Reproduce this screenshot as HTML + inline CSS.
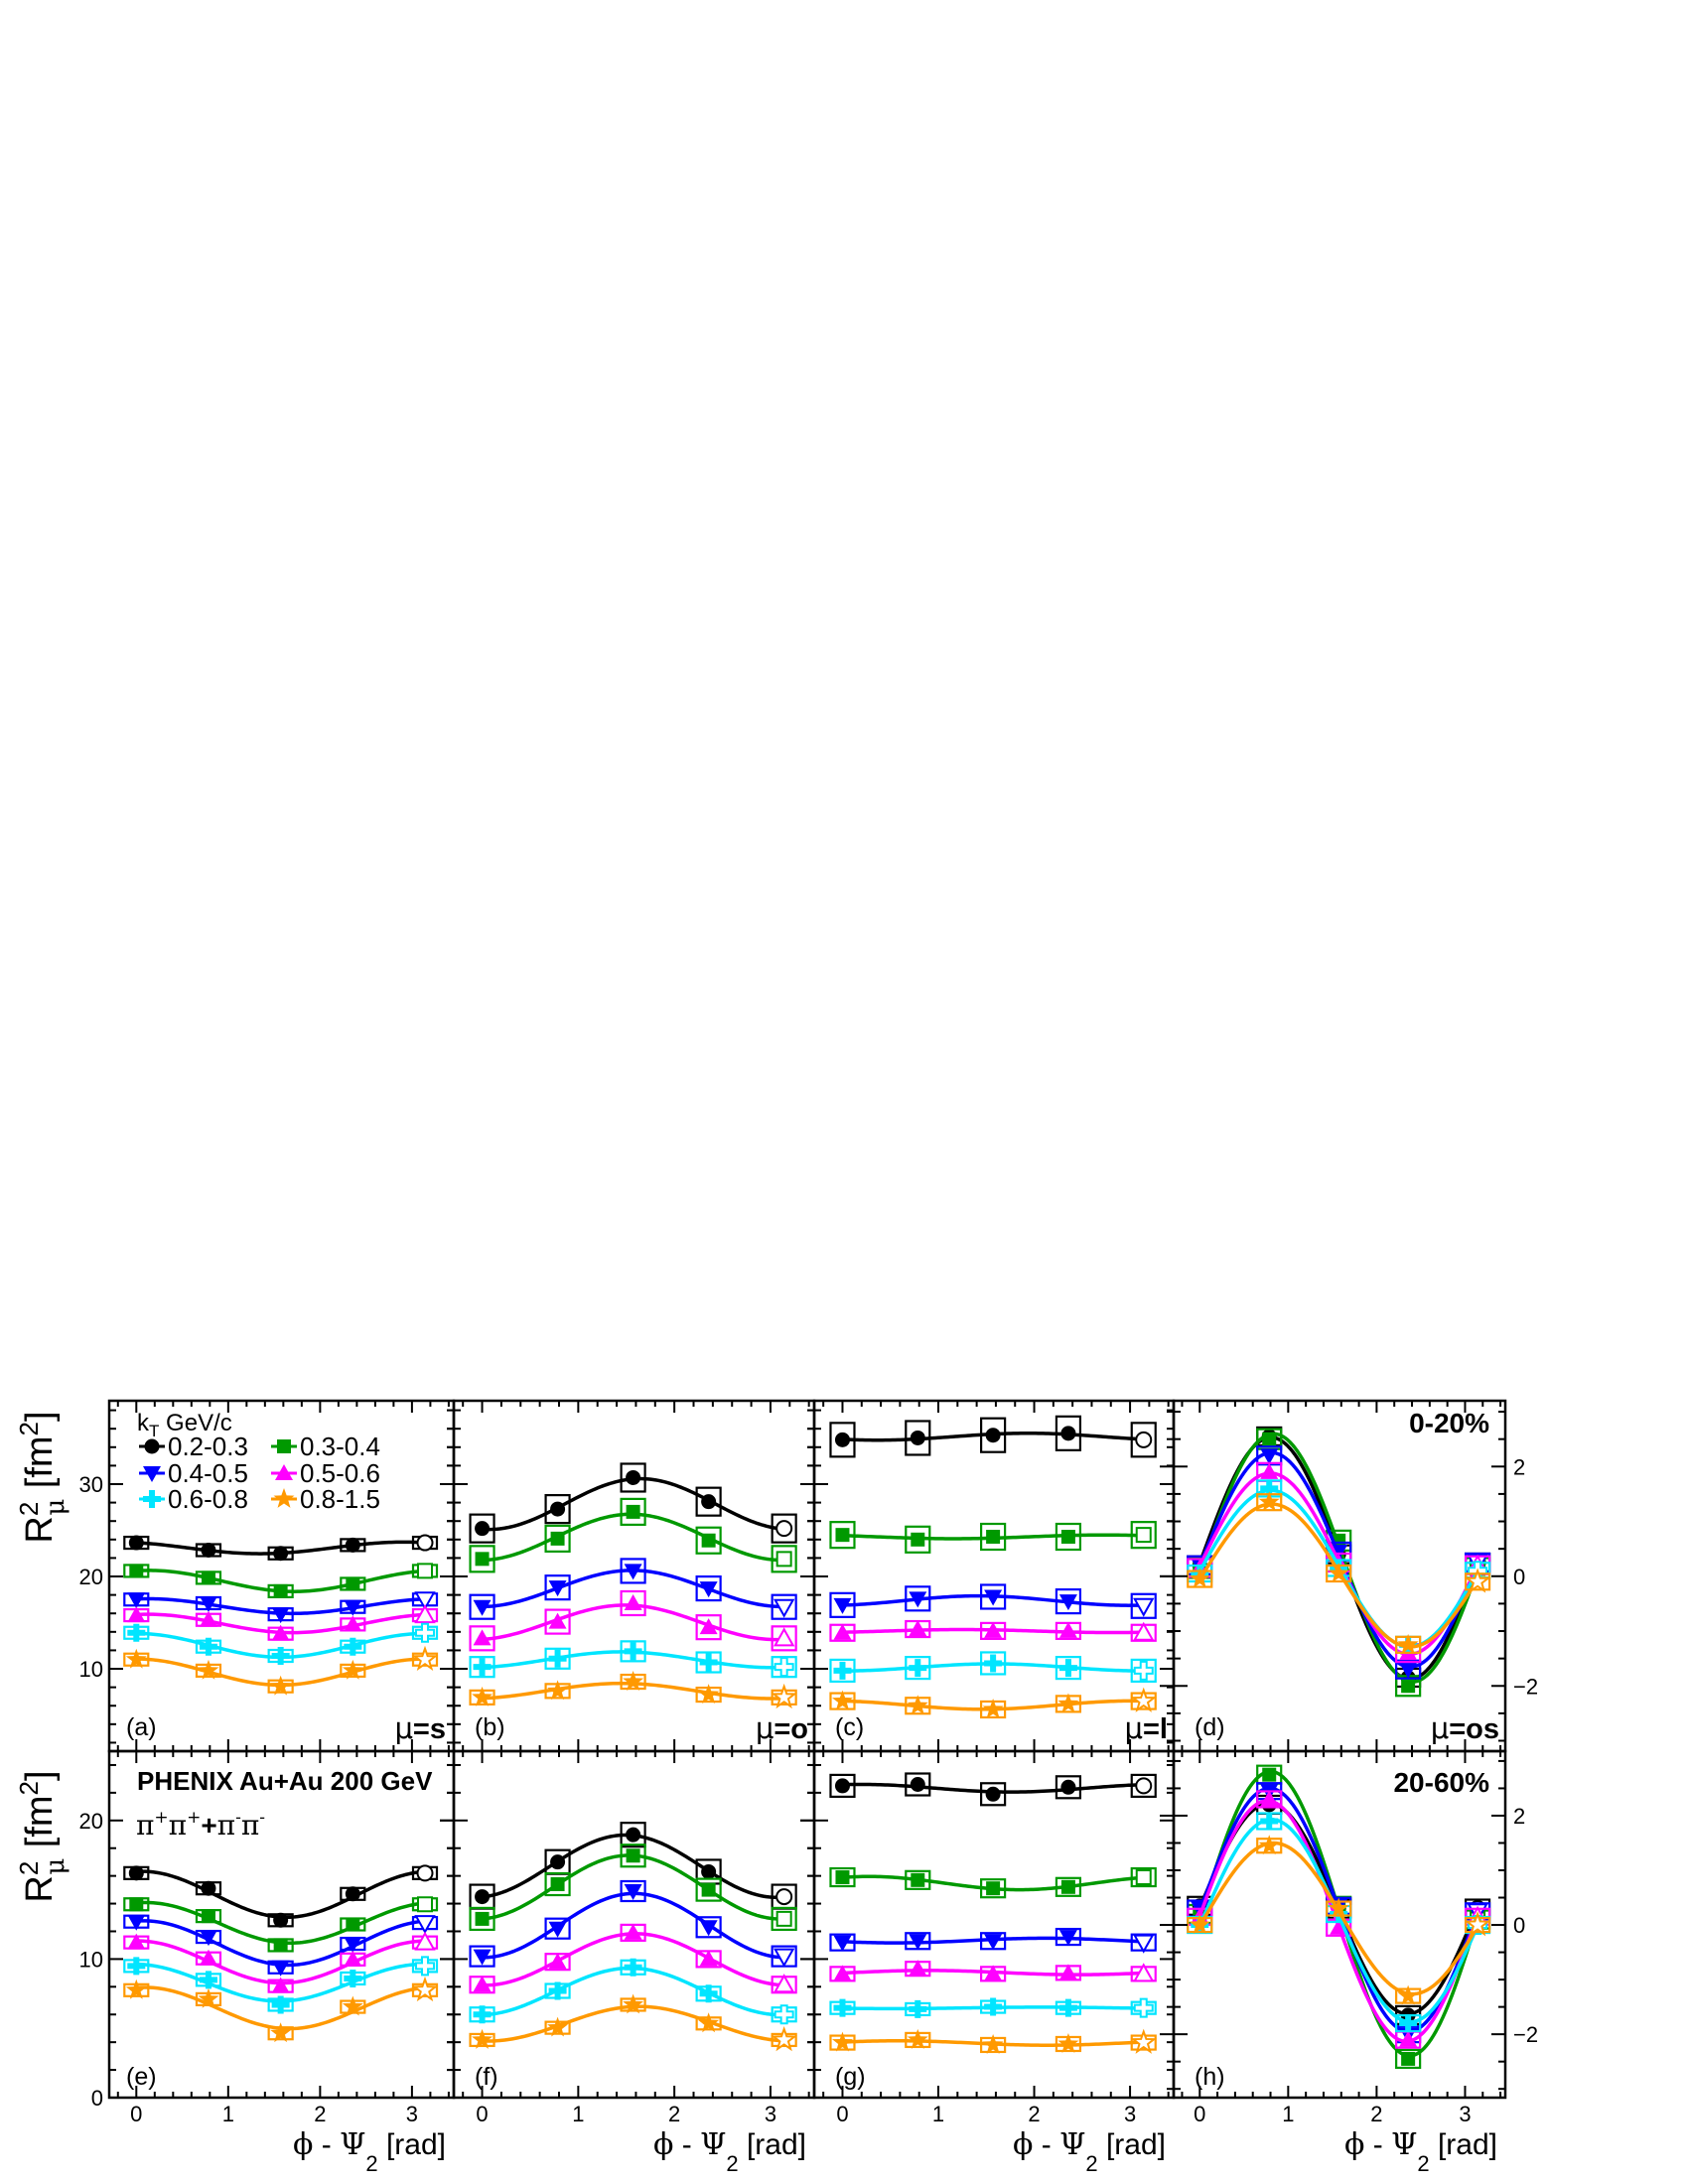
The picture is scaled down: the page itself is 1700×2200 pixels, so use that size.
<!DOCTYPE html>
<html><head><meta charset="utf-8">
<style>
html,body{margin:0;padding:0;background:#fff;}
svg{display:block;font-family:"Liberation Sans",Arial,sans-serif;}
</style></head>
<body>
<svg id="chart" width="1700" height="2200" viewBox="0 0 1700 2200" xmlns="http://www.w3.org/2000/svg">
<rect x="0" y="0" width="1700" height="2200" fill="#fff"/>
<g id="marks"></g>
<g id="frames"></g>
<g id="texts" fill="#000">
  <text transform="translate(52,1488) rotate(-90)" text-anchor="middle" font-size="38">R<tspan dy="-14" font-size="26">2</tspan><tspan dx="-14" dy="26" font-size="26" font-family="DejaVu Serif">μ</tspan><tspan dy="-12"> [fm</tspan><tspan dy="-14" font-size="26">2</tspan><tspan dy="14">]</tspan></text>
  <text transform="translate(52,1850) rotate(-90)" text-anchor="middle" font-size="38">R<tspan dy="-14" font-size="26">2</tspan><tspan dx="-14" dy="26" font-size="26" font-family="DejaVu Serif">μ</tspan><tspan dy="-12"> [fm</tspan><tspan dy="-14" font-size="26">2</tspan><tspan dy="14">]</tspan></text>

  <text x="138" y="1441" font-size="24">k<tspan dy="6" font-size="17">T</tspan><tspan dy="-6"> GeV/c</tspan></text>

  <text x="127" y="1748" font-size="25">(a)</text>
  <text x="478" y="1748" font-size="25">(b)</text>
  <text x="841" y="1748" font-size="25">(c)</text>
  <text x="1203" y="1748" font-size="25">(d)</text>
  <text x="127" y="2100" font-size="25">(e)</text>
  <text x="478" y="2100" font-size="25">(f)</text>
  <text x="841" y="2100" font-size="25">(g)</text>
  <text x="1203" y="2100" font-size="25">(h)</text>

  <text x="449" y="1751" font-size="29" text-anchor="end"><tspan font-family="DejaVu Sans">μ</tspan><tspan font-weight="bold">=s</tspan></text>
  <text x="814" y="1751" font-size="29" text-anchor="end"><tspan font-family="DejaVu Sans">μ</tspan><tspan font-weight="bold">=o</tspan></text>
  <text x="1176" y="1751" font-size="29" text-anchor="end"><tspan font-family="DejaVu Sans">μ</tspan><tspan font-weight="bold">=l</tspan></text>
  <text x="1510" y="1751" font-size="29" text-anchor="end"><tspan font-family="DejaVu Sans">μ</tspan><tspan font-weight="bold">=os</tspan></text>

  <text x="1500" y="1443" font-size="28" font-weight="bold" text-anchor="end">0-20%</text>
  <text x="1500" y="1805" font-size="28" font-weight="bold" text-anchor="end">20-60%</text>
  <text x="138" y="1803" font-size="26" font-weight="bold">PHENIX Au+Au 200 GeV</text>
  <text x="137" y="1848" font-size="28" font-family="DejaVu Serif">π<tspan dy="-12" font-size="17">+</tspan><tspan dy="12">π</tspan><tspan dy="-12" font-size="17">+</tspan><tspan dy="12" font-weight="bold" font-family="Liberation Sans">+</tspan>π<tspan dy="-12" font-size="17">-</tspan><tspan dy="12">π</tspan><tspan dy="-12" font-size="17">-</tspan></text>
</g>
</svg>
<script>
// ---------- data ----------
const xPoints = [0, 0.7854, 1.5708, 2.3562, 3.1416];
const xTickLabels = ["0", "1", "2", "3"];
const ktBins = ["0.2-0.3", "0.3-0.4", "0.4-0.5", "0.5-0.6", "0.6-0.8", "0.8-1.5"];
// panel (a) R_s^2 0-20%
const aBlack = [23.65, 22.85, 22.5, 23.4, 23.65];
const aGreen = [20.6, 19.85, 18.4, 19.2, 20.6];
const aBlue = [17.5, 17.1, 15.9, 16.7, 17.5];
const aMagenta = [15.8, 15.3, 13.8, 14.8, 15.8];
const aCyan = [13.9, 12.4, 11.4, 12.4, 13.9];
const aOrange = [11.0, 9.8, 8.1, 9.8, 11.0];
// panel (b) R_o^2 0-20%
const bBlack = [25.2, 27.3, 30.7, 28.1, 25.2];
const bGreen = [21.9, 24.1, 27.0, 23.9, 21.9];
const bBlue = [16.7, 18.8, 20.6, 18.7, 16.7];
const bMagenta = [13.3, 15.1, 17.1, 14.5, 13.3];
const bCyan = [10.2, 11.1, 11.9, 10.7, 10.2];
const bOrange = [6.9, 7.6, 8.6, 7.2, 6.9];
// panel (c) R_l^2 0-20%
const cBlack = [34.8, 35.0, 35.3, 35.5, 34.8];
const cGreen = [24.5, 24.0, 24.3, 24.3, 24.5];
const cBlue = [16.9, 17.6, 17.8, 17.3, 16.8];
const cMagenta = [13.9, 14.3, 14.1, 14.1, 13.9];
const cCyan = [9.8, 10.1, 10.6, 10.1, 9.8];
const cOrange = [6.5, 6.0, 5.6, 6.2, 6.5];
// panel (d) R_os^2 0-20%
const dBlack = [0.2, 2.55, 0.4, -1.85, 0.25];
const dGreen = [0.15, 2.5, 0.65, -2.0, 0.15];
const dBlue = [0.2, 2.2, 0.45, -1.7, 0.25];
const dMagenta = [0.15, 1.9, 0.25, -1.4, 0.2];
const dCyan = [0.05, 1.6, 0.15, -1.25, 0.1];
const dOrange = [-0.05, 1.35, 0.05, -1.25, -0.1];
// panel (e) R_s^2 20-60%
const eBlack = [16.2, 15.1, 12.8, 14.7, 16.2];
const eGreen = [13.95, 13.1, 11.0, 12.5, 13.95];
const eBlue = [12.7, 11.6, 9.4, 11.1, 12.6];
const eMagenta = [11.2, 10.05, 8.05, 9.97, 11.2];
const eCyan = [9.5, 8.5, 6.7, 8.6, 9.5];
const eOrange = [7.75, 7.1, 4.64, 6.55, 7.75];
// panel (f) R_o^2 20-60%
const fBlack = [14.5, 17.0, 18.97, 16.3, 14.5];
const fGreen = [12.9, 15.4, 17.46, 15.0, 12.9];
const fBlue = [10.2, 12.2, 14.9, 12.3, 10.2];
const fMagenta = [8.15, 9.8, 11.9, 10.0, 8.15];
const fCyan = [6.0, 7.7, 9.4, 7.5, 6.0];
const fOrange = [4.16, 5.04, 6.7, 5.35, 4.16];
// panel (g) R_l^2 20-60%
const gBlack = [22.5, 22.6, 21.9, 22.4, 22.5];
const gGreen = [15.9, 15.7, 15.1, 15.2, 15.9];
const gBlue = [11.2, 11.3, 11.3, 11.6, 11.2];
const gMagenta = [8.93, 9.3, 8.93, 9.0, 8.93];
const gCyan = [6.47, 6.38, 6.55, 6.47, 6.47];
const gOrange = [3.97, 4.16, 3.8, 3.87, 3.97];
// panel (h) R_os^2 20-60%
const hBlack = [0.35, 2.2, 0.3, -1.65, 0.3];
const hGreen = [0.2, 2.75, 0.35, -2.45, 0.1];
const hBlue = [0.3, 2.45, 0.35, -2.0, 0.25];
const hMagenta = [0.15, 2.3, -0.05, -2.1, 0.15];
const hCyan = [0.0, 1.9, 0.2, -1.8, 0.0];
const hOrange = [0.0, 1.45, 0.3, -1.3, 0.0];
const topYTicks = [10, 20, 30];
const botYTicks = [0, 10, 20];
const osYTicks = [-2, 0, 2];

// ---------- layout / style ----------
const NS = "http://www.w3.org/2000/svg";
const colors = ["#000000", "#009900", "#0000ff", "#ff00ff", "#00e5ff", "#ff9900"];
const shapes = ["circle", "square", "tdown", "tup", "cross", "star"];
const XMIN = -0.295, XMAX = 3.455;
const panels = [
  {id:"a", x0:110, x1:457, y0:1411, y1:1764, ymin:1.08, ymax:39.03, series:[aBlack,aGreen,aBlue,aMagenta,aCyan,aOrange], ticks:topYTicks, minor:2, left:true, box:[6,6,6,6,6,6]},
  {id:"b", x0:457, x1:820, y0:1411, y1:1764, ymin:1.08, ymax:39.03, series:[bBlack,bGreen,bBlue,bMagenta,bCyan,bOrange], ticks:topYTicks, minor:2, box:[14,13,12,12,10,7]},
  {id:"c", x0:820, x1:1182, y0:1411, y1:1764, ymin:1.08, ymax:39.03, series:[cBlack,cGreen,cBlue,cMagenta,cCyan,cOrange], ticks:topYTicks, minor:2, box:[17,13,12,8,11,8]},
  {id:"d", x0:1182, x1:1516, y0:1411, y1:1764, ymin:-3.19, ymax:3.2, series:[dBlack,dGreen,dBlue,dMagenta,dCyan,dOrange], ticks:osYTicks, minor:0.5, right:true, box:[9,10,9,9,8,8]},
  {id:"e", x0:110, x1:457, y0:1764, y1:2113, ymin:0, ymax:25.0, series:[eBlack,eGreen,eBlue,eMagenta,eCyan,eOrange], ticks:botYTicks, minor:2, left:true, bottom:true, box:[6,6,6,6,6,6]},
  {id:"f", x0:457, x1:820, y0:1764, y1:2113, ymin:0, ymax:25.0, series:[fBlack,fGreen,fBlue,fMagenta,fCyan,fOrange], ticks:botYTicks, minor:2, bottom:true, box:[12,11,10,8,7,6]},
  {id:"g", x0:820, x1:1182, y0:1764, y1:2113, ymin:0, ymax:25.0, series:[gBlack,gGreen,gBlue,gMagenta,gCyan,gOrange], ticks:botYTicks, minor:2, bottom:true, box:[11,9,8,7,6,7]},
  {id:"h", x0:1182, x1:1516, y0:1764, y1:2113, ymin:-3.16, ymax:3.18, series:[hBlack,hGreen,hBlue,hMagenta,hCyan,hOrange], ticks:osYTicks, minor:0.5, right:true, bottom:true, box:[9,9,8,8,8,7]}
];

function mk(tag, attrs, parent){
  const e = document.createElementNS(NS, tag);
  for (const k in attrs) e.setAttribute(k, attrs[k]);
  parent.appendChild(e);
  return e;
}
function xScale(p, v){ return p.x0 + (v - XMIN) / (XMAX - XMIN) * (p.x1 - p.x0); }
function yScale(p, v){ return p.y1 - (v - p.ymin) / (p.ymax - p.ymin) * (p.y1 - p.y0); }

function markerPath(shape, cx, cy){
  if (shape === "square") { const s=7; return `M${cx-s},${cy-s}H${cx+s}V${cy+s}H${cx-s}Z`; }
  if (shape === "tdown") { return `M${cx-9},${cy-7}H${cx+9}L${cx},${cy+9}Z`; }
  if (shape === "tup") { return `M${cx-9},${cy+7}H${cx+9}L${cx},${cy-9}Z`; }
  if (shape === "cross") { const a=9,w=3; return `M${cx-w},${cy-a}H${cx+w}V${cy-w}H${cx+a}V${cy+w}H${cx+w}V${cy+a}H${cx-w}V${cy+w}H${cx-a}V${cy-w}H${cx-w}Z`; }
  if (shape === "star") {
    let d = "";
    for (let i=0;i<10;i++){
      const r = i%2===0 ? 11 : 4.5;
      const ang = -Math.PI/2 + i*Math.PI/5;
      d += (i===0?"M":"L") + (cx + r*Math.cos(ang)).toFixed(2) + "," + (cy + r*Math.sin(ang)).toFixed(2);
    }
    return d + "Z";
  }
  return null;
}
function drawMarker(g, shape, cx, cy, color, open){
  let e;
  if (shape === "circle") e = mk("circle", {cx:cx, cy:cy, r:7.5}, g);
  else e = mk("path", {d:markerPath(shape, cx, cy)}, g);
  if (open) { e.setAttribute("fill", "#fff"); e.setAttribute("stroke", color); e.setAttribute("stroke-width", "2"); }
  else e.setAttribute("fill", color);
  return e;
}

// least-squares fit y = c0 + c1 cos2x + c2 sin2x
function fitSeries(xs, ys){
  const M = [[0,0,0],[0,0,0],[0,0,0]], B = [0,0,0];
  for (let i=0;i<xs.length;i++){
    const f = [1, Math.cos(2*xs[i]), Math.sin(2*xs[i])];
    for (let r=0;r<3;r++){ B[r] += f[r]*ys[i]; for (let c=0;c<3;c++) M[r][c] += f[r]*f[c]; }
  }
  const det = m => m[0][0]*(m[1][1]*m[2][2]-m[1][2]*m[2][1]) - m[0][1]*(m[1][0]*m[2][2]-m[1][2]*m[2][0]) + m[0][2]*(m[1][0]*m[2][1]-m[1][1]*m[2][0]);
  const D = det(M);
  const sol = [];
  for (let k=0;k<3;k++){
    const Mk = M.map((row,r)=>row.map((v,c)=> c===k ? B[r] : v));
    sol.push(det(Mk)/D);
  }
  return sol;
}

const marks = document.getElementById("marks");
const frames = document.getElementById("frames");

panels.forEach(p => {
  const pg = mk("g", {}, marks);
  
  
  p.series.forEach((vals, si) => {
    const color = colors[si];
    const sg = mk("g", {}, pg);
    
    
    const c = fitSeries(xPoints, vals);
    let d = "";
    for (let k=0;k<=120;k++){
      const xv = k/120*Math.PI;
      const yv = c[0] + c[1]*Math.cos(2*xv) + c[2]*Math.sin(2*xv);
      d += (k===0?"M":"L") + xScale(p,xv).toFixed(2) + "," + yScale(p,yv).toFixed(2);
    }
    const curve = mk("path", {d:d, fill:"none", stroke:color, "stroke-width":3.5, "stroke-linejoin":"round"}, sg);
    
    
    const bh = p.box[si];
    vals.forEach((v, i) => {
      const cx = xScale(p, xPoints[i]), cy = yScale(p, v);
      const box = mk("rect", {x:cx-12, y:cy-bh, width:24, height:2*bh, fill:"none", stroke:color, "stroke-width":2.2}, sg);
      
      
      const m = drawMarker(sg, shapes[si], cx, cy, color, i === vals.length-1);
      
      
    });
  });

  const fg = mk("g", {stroke:"#000", fill:"none"}, frames);
  
  
  const fr = mk("rect", {x:p.x0, y:p.y0, width:p.x1-p.x0, height:p.y1-p.y0, "stroke-width":2.5}, fg);
  
  
  for (let v=-0.2; v<=3.41; v+=0.2){
    const vv = Math.round(v*10)/10;
    const major = Math.abs(vv - Math.round(vv)) < 1e-6;
    const len = major ? 12 : 6;
    const x = xScale(p, vv);
    mk("line", {x1:x, y1:p.y1, x2:x, y2:p.y1-len, "stroke-width":2}, fg);
    mk("line", {x1:x, y1:p.y0, x2:x, y2:p.y0+len, "stroke-width":2}, fg);
  }
  const yStart = Math.ceil(p.ymin/p.minor)*p.minor;
  for (let v=yStart; v<=p.ymax+1e-6; v+=p.minor){
    const vv = Math.round(v*100)/100;
    const major = p.ticks.some(t => Math.abs(t - vv) < 1e-6) || (p.minor===2 && Math.abs(vv%10) < 1e-6);
    const len = major ? 14 : 7;
    const y = yScale(p, vv);
    mk("line", {x1:p.x0, y1:y, x2:p.x0+len, y2:y, "stroke-width":2}, fg);
    mk("line", {x1:p.x1, y1:y, x2:p.x1-len, y2:y, "stroke-width":2}, fg);
    if (!p.left) mk("line", {x1:p.x0, y1:y, x2:p.x0-len, y2:y, "stroke-width":2}, fg);
  }
  p.ticks.forEach(t => {
    if (p.left) {
      const tx = mk("text", {x:p.x0-6, y:yScale(p,t)+8, "font-size":22, "text-anchor":"end", fill:"#000", stroke:"none"}, fg);
      tx.textContent = String(t);
      
      
    }
    if (p.right) {
      const tx = mk("text", {x:p.x1+8, y:yScale(p,t)+8, "font-size":22, "text-anchor":"start", fill:"#000", stroke:"none"}, fg);
      tx.textContent = t < 0 ? "\u2212" + Math.abs(t) : String(t);
      
      
    }
  });
  if (p.bottom) {
    xTickLabels.forEach((lab, i) => {
      const tx = mk("text", {x:xScale(p, i), y:p.y1+24, "font-size":22, "text-anchor":"middle", fill:"#000", stroke:"none"}, fg);
      tx.textContent = lab;
      
      
    });
    const tt = mk("text", {x:p.x1-8, y:2170, "font-size":30, "text-anchor":"end", fill:"#000", stroke:"none"}, fg);
    
    
    tt.innerHTML = '<tspan font-family="DejaVu Serif">\u03d5</tspan> - <tspan font-family="DejaVu Serif">\u03a8</tspan><tspan dy="17" font-size="22">2</tspan><tspan dy="-17"> [rad]</tspan>';
  }
});

// ---------- legend ----------
const texts = document.getElementById("texts");
const legX = [153, 286], legY = [1457, 1484, 1510];
ktBins.forEach((lab, i) => {
  const col = i % 2, row = Math.floor(i / 2);
  const lg = mk("g", {}, texts);
  
  
  const cx = legX[col], cy = legY[row];
  mk("line", {x1:cx-13, y1:cy, x2:cx+13, y2:cy, stroke:colors[i], "stroke-width":3}, lg);
  drawMarker(lg, shapes[i], cx, cy, colors[i], false);
  const t = mk("text", {x:cx+16, y:cy+9, "font-size":26, fill:"#000"}, lg);
  t.textContent = lab;
});
</script>
</body></html>
